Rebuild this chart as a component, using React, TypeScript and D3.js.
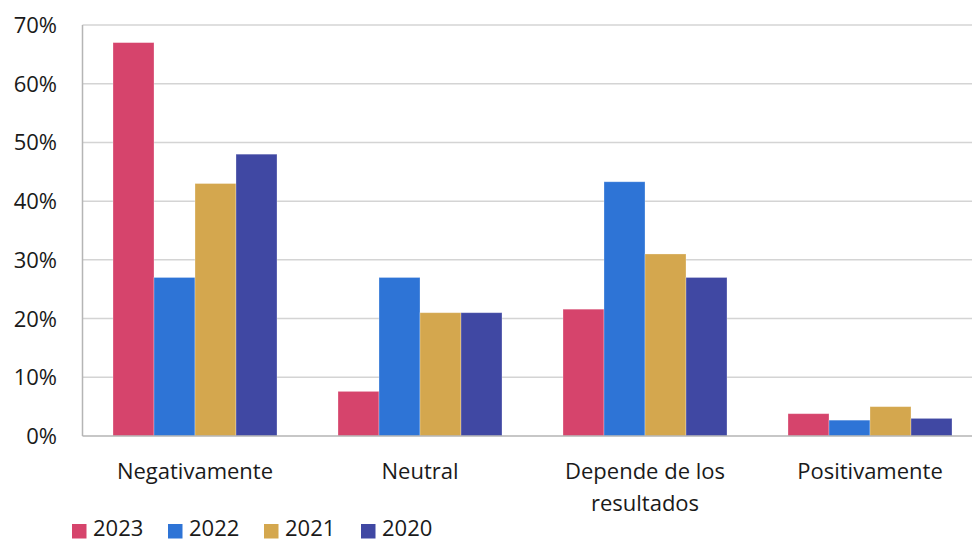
import React from "react";
import * as d3 from "d3";

const categories = ["Negativamente", "Neutral", "Depende de los\nresultados", "Positivamente"];
const seriesNames = ["2023", "2022", "2021", "2020"];
const values2023 = [67, 7.6, 21.6, 3.8];
const values2022 = [27, 27, 43.3, 2.7];
const values2021 = [43, 21, 31, 5];
const values2020 = [48, 21, 27, 3];
const yTicks = [0, 10, 20, 30, 40, 50, 60, 70];
const colors = ["#D6446C", "#2E74D6", "#D4A74E", "#4048A3"];

const W = 972;
const H = 542;
const FONT = "'Open Sans', sans-serif";

export default function App() {
  const series = [values2023, values2022, values2021, values2020];
  // category bands run slightly past the right edge of the drawing
  const x = d3.scaleBand<number>().domain(d3.range(categories.length)).range([82.5, 982.5]).paddingInner(0).paddingOuter(0);
  const inner = d3
    .scaleBand<number>()
    .domain(d3.range(seriesNames.length))
    .range([0, x.bandwidth()])
    .paddingInner(0)
    .paddingOuter(0.744);
  const y = d3.scaleLinear().domain([0, 70]).range([436, 25]);

  const legendX = [72, 168, 264, 361];

  return (
    <svg width={W} height={H} style={{ position: "absolute", left: 0, top: 0, display: "block" }}>
      <rect width={W} height={H} fill="#fff" />
      {yTicks.map((t) => (
        <g key={t}>
          {t > 0 && <line x1={82.5} x2={W} y1={y(t)} y2={y(t)} stroke="#d4d4d4" strokeWidth={1.5} />}
          <text x={57} y={y(t) + 8} textAnchor="end" fontFamily={FONT} fontSize={22} fill="#1a1a1a">
            {t}%
          </text>
        </g>
      ))}
      {series.map((vals, si) =>
        vals.map((v, ci) => (
          <rect
            key={`${si}-${ci}`}
            x={(x(ci) as number) + (inner(si) as number)}
            y={y(v)}
            width={inner.bandwidth()}
            height={y(0) - y(v)}
            fill={colors[si]}
            stroke="rgba(255,255,255,0.35)"
            strokeWidth={0.8}
          />
        ))
      )}
      <line x1={82.5} x2={82.5} y1={25} y2={y(0)} stroke="#b5b5b5" strokeWidth={1.5} />
      <line x1={82.5} x2={W} y1={y(0)} y2={y(0)} stroke="#b5b5b5" strokeWidth={1.5} />
      {categories.map((c, ci) =>
        c.split("\n").map((line, li) => (
          <text
            key={`${ci}-${li}`}
            x={(x(ci) as number) + x.bandwidth() / 2}
            y={479 + li * 32}
            textAnchor="middle"
            fontFamily={FONT}
            fontSize={22}
            fill="#1a1a1a"
          >
            {line}
          </text>
        ))
      )}
      {seriesNames.map((s, i) => (
        <g key={s}>
          <rect x={legendX[i]} y={524} width={14.5} height={14.5} fill={colors[i]} />
          <text x={legendX[i] + 21} y={536} fontFamily={FONT} fontSize={22} fill="#1a1a1a">
            {s}
          </text>
        </g>
      ))}
    </svg>
  );
}
